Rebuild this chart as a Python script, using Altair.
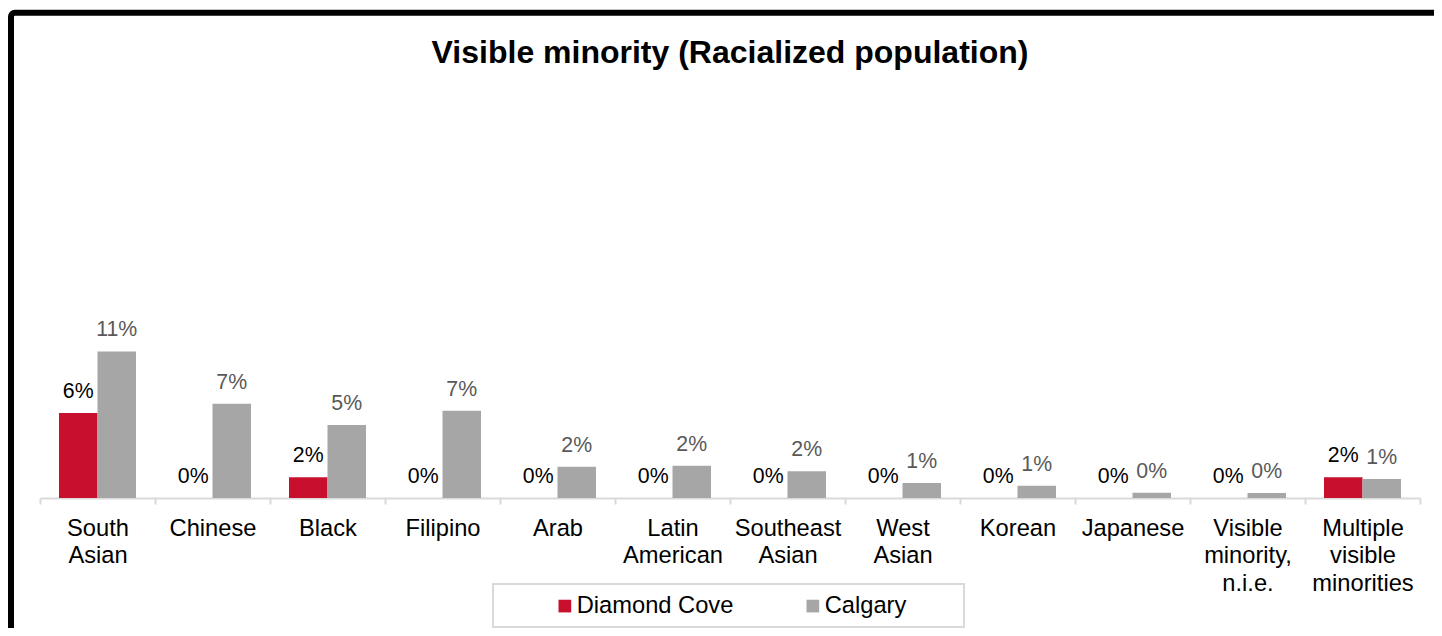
import altair as alt
import pandas as pd

# ---- data ----
categories = [
    "South\nAsian", "Chinese", "Black", "Filipino", "Arab", "Latin\nAmerican",
    "Southeast\nAsian", "West\nAsian", "Korean", "Japanese",
    "Visible\nminority,\nn.i.e.", "Multiple\nvisible\nminorities",
]
series = ["Diamond Cove", "Calgary"]
diamond_cove = [0.0634, 0.0, 0.0154, 0.0, 0.0, 0.0, 0.0, 0.0, 0.0, 0.0, 0.0, 0.0154]
calgary = [0.1094, 0.0704, 0.0545, 0.0651, 0.0234, 0.0241, 0.0199, 0.0112, 0.0092, 0.0040, 0.0037, 0.0142]
title_text = "Visible minority (Racialized population)"
bar_colors = ["#C8102E", "#A6A6A6"]
label_colors = ["#000000", "#595959"]

rows = []
for s, vals in zip(series, [diamond_cove, calgary]):
    for c, v in zip(categories, vals):
        rows.append({"category": c, "series": s, "value": v})
df = pd.DataFrame(rows)

FONT = "Liberation Sans"

x_enc = alt.X(
    "category:N", sort=categories,
    scale=alt.Scale(paddingInner=0, paddingOuter=0),
    axis=alt.Axis(
        title=None, labelAngle=0,
        labelExpr="isValid(datum.value) ? split(datum.value, '\\n') : ''",
        labelFontSize=23.7, labelColor="#000000", labelLineHeight=27.6,
        labelPadding=12, labelOverlap=False, labelLimit=0,
        tickBand="extent", tickSize=6, tickWidth=2, tickColor="#D9D9D9",
        domainColor="#D9D9D9", domainWidth=2, grid=False,
    ),
)
y_enc = alt.Y("value:Q", scale=alt.Scale(domain=[0, 0.30]), axis=None)
xoff = alt.XOffset("series:N", sort=series,
                   scale=alt.Scale(paddingInner=0, paddingOuter=0.4935))

base = alt.Chart(df)

bars = base.mark_bar().encode(
    x=x_enc, y=y_enc, xOffset=xoff,
    color=alt.Color(
        "series:N", sort=series,
        scale=alt.Scale(domain=series, range=bar_colors),
        legend=alt.Legend(
            orient="none", legendX=513, legendY=498, direction="horizontal",
            title=None, symbolType="square", symbolSize=161, symbolStrokeWidth=0,
            labelFontSize=23.7, labelColor="#000000", labelOffset=0,
            columnPadding=67, padding=0,
        ),
    ),
)

labels = base.mark_text(baseline="alphabetic", align="center", dy=-15, fontSize=21.3).encode(
    x=x_enc, y=y_enc, xOffset=xoff,
    text=alt.Text("value:Q", format=".0%"),
    color=alt.condition(alt.datum.series == series[0],
                        alt.value(label_colors[0]), alt.value(label_colors[1])),
)

title = alt.Chart(pd.DataFrame({"t": [title_text]})).mark_text(
    fontSize=32, fontWeight="bold", align="center", baseline="alphabetic", color="#000000"
).encode(text="t:N", x=alt.value(690), y=alt.value(-33))

border = alt.Chart(pd.DataFrame({"k": [0]})).mark_rect(
    fillOpacity=0, stroke="#000000", strokeWidth=6, cornerRadius=4
).encode(x=alt.value(-29), y=alt.value(-83.2), x2=alt.value(3000), y2=alt.value(3000))

legend_box = alt.Chart(pd.DataFrame({"k": [0]})).mark_rect(
    fillOpacity=0, stroke="#D9D9D9", strokeWidth=2
).encode(x=alt.value(453), x2=alt.value(924), y=alt.value(488), y2=alt.value(531))

chart = alt.layer(legend_box, bars, labels, title, border).properties(
    width=1380, height=402,
    autosize=alt.AutoSizeParams(type="none"),
    padding={"left": 32, "top": 88, "right": 14, "bottom": 130},
    background="white",
).configure(font=FONT).configure_view(strokeWidth=0)

chart.save("out.html", embed_options={"renderer": "svg", "actions": False})
